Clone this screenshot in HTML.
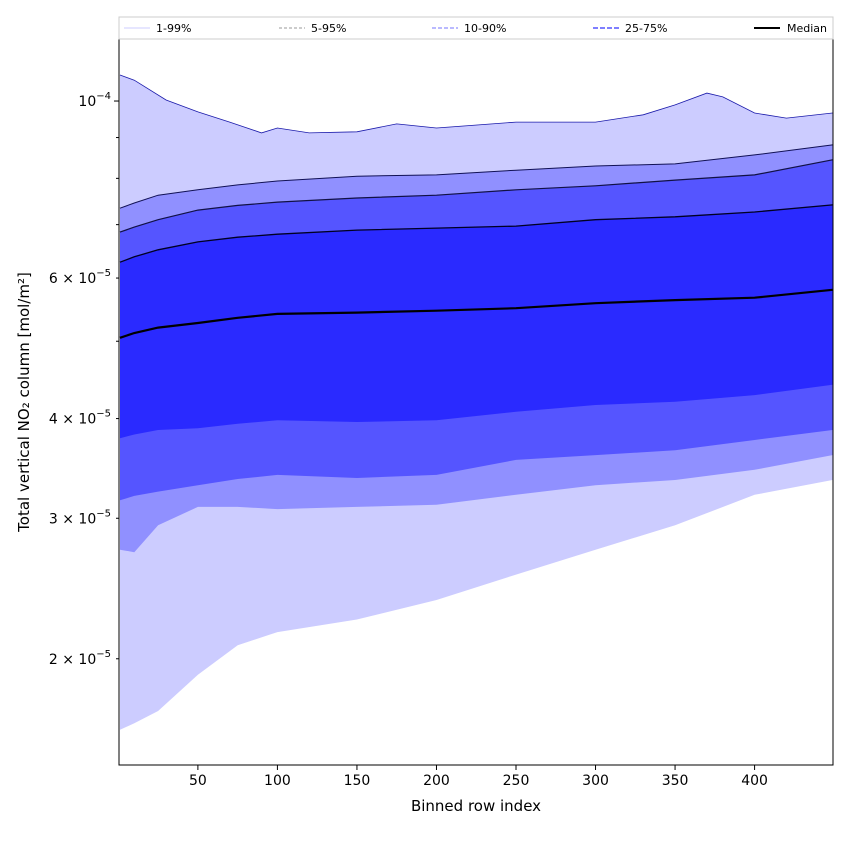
<!DOCTYPE html>
<html><head><meta charset="utf-8"><style>
body{margin:0;background:#fff}
svg{font-family:"DejaVu Sans","Liberation Sans",sans-serif}
</style></head><body>
<svg id="chart" width="850" height="850" viewBox="0 0 850 850">
<g id="bands"></g>
<g id="lines"></g>
<rect x="119" y="39" width="714" height="726" fill="none" stroke="#000" stroke-width="1"/>
<g id="xticks"></g>
<g id="yticks"></g>
<text x="476" y="811" font-size="15" text-anchor="middle">Binned row index</text>
<text transform="translate(29,402) rotate(-90)" font-size="15" text-anchor="middle">Total vertical NO₂ column [mol/m²]</text>
<g>
<rect x="119" y="17" width="714" height="22" fill="#fff" stroke="#ccc"/>
<g><line x1="124" y1="28" x2="150" y2="28" stroke="#ccccff" stroke-width="1"/><text x="156" y="32" font-size="11">1-99%</text></g>
<g><line x1="279" y1="28" x2="305" y2="28" stroke="#999" stroke-width="1" stroke-dasharray="3,2"/><text x="311" y="32" font-size="11">5-95%</text></g>
<g><line x1="432" y1="28" x2="458" y2="28" stroke="#9090ff" stroke-width="1.2" stroke-dasharray="4,2"/><text x="464" y="32" font-size="11">10-90%</text></g>
<g><line x1="593" y1="28" x2="619" y2="28" stroke="#5555ff" stroke-width="1.5" stroke-dasharray="5,2"/><text x="625" y="32" font-size="11">25-75%</text></g>
<g><line x1="754" y1="28" x2="780" y2="28" stroke="#000" stroke-width="2"/><text x="787" y="32" font-size="11">Median</text></g>
</g>
</svg>
<script>
const idx = [1,10,25,50,75,100,150,200,250,300,350,400,449];
const p99idx = [1,10,30,50,70,90,100,120,150,175,200,250,300,330,350,370,380,400,420,449];
const p99 = [10.78,10.62,10.03,9.69,9.41,9.12,9.25,9.12,9.15,9.36,9.25,9.41,9.41,9.61,9.89,10.23,10.12,9.66,9.52,9.66];
const p95 = [7.34,7.45,7.62,7.74,7.85,7.94,8.05,8.08,8.19,8.29,8.34,8.56,8.81];
const p90 = [6.85,6.95,7.10,7.30,7.40,7.47,7.56,7.62,7.74,7.83,7.96,8.08,8.44];
const p75 = [6.28,6.38,6.51,6.66,6.75,6.81,6.89,6.93,6.97,7.10,7.16,7.26,7.41];
const p50 = [5.05,5.12,5.20,5.27,5.35,5.41,5.43,5.46,5.50,5.58,5.63,5.67,5.80];
const p25 = [3.78,3.82,3.87,3.89,3.94,3.98,3.96,3.98,4.08,4.16,4.20,4.28,4.41];
const p10 = [3.16,3.20,3.24,3.30,3.36,3.40,3.37,3.40,3.55,3.60,3.65,3.76,3.87];
const p5  = [2.74,2.72,2.94,3.10,3.10,3.08,3.10,3.12,3.21,3.30,3.35,3.45,3.60];
const p1  = [1.63,1.66,1.72,1.91,2.08,2.16,2.24,2.37,2.55,2.74,2.94,3.21,3.35];
const xTicks = [50,100,150,200,250,300,350,400];
const yTickVals = [2,3,4,5,6,7,8,9,10];
const yTickLabels = ["2","3","4","","6","","","","1"];
const NS="http://www.w3.org/2000/svg";
const X0=119,X1=833,Y0=39,Y1=765;
const xmin=0.4,xmax=449.3;
const lmin=Math.log10(1.472),lmax=Math.log10(11.96);
function sx(v){return X0+(v-xmin)/(xmax-xmin)*(X1-X0);}
function sy(v){return Y1-(Math.log10(v)-lmin)/(lmax-lmin)*(Y1-Y0);}
function pts(xs,ys){return xs.map((x,i)=>sx(x).toFixed(1)+","+sy(ys[i]).toFixed(1));}
function mk(tag,attrs,parent){const e=document.createElementNS(NS,tag);for(const k in attrs)e.setAttribute(k,attrs[k]);parent.appendChild(e);return e;}
const bands=document.getElementById('bands');
function band(xu,up,xl,lo,color,name){
  const p=pts(xu,up).concat(pts(xl,lo).reverse());
  const e=mk('polygon',{points:p.join(' '),fill:color},bands);
  
  
}
band(p99idx,p99,idx,p1,'#ccccff','band-1-99');
band(idx,p95,idx,p5,'#9090ff','band-5-95');
band(idx,p90,idx,p10,'#5555ff','band-10-90');
band(idx,p75,idx,p25,'#2a2aff','band-25-75');
const lines=document.getElementById('lines');
function line(xs,ys,color,w,name){
  const e=mk('polyline',{points:pts(xs,ys).join(' '),fill:'none',stroke:color,'stroke-width':w},lines);
  
  
}
line(p99idx,p99,'#1a1aaa',0.8,'p99-line');
line(idx,p95,'#111155',1,'p95-line');
line(idx,p90,'#111144',1.2,'p90-line');
line(idx,p75,'#000022',1.3,'p75-line');
line(idx,p50,'#000',2.2,'median-line');
const xt=document.getElementById('xticks');
xTicks.forEach(v=>{
  const g=mk('g',{},xt);
  
  
  mk('line',{x1:sx(v),x2:sx(v),y1:Y1,y2:Y1+5,stroke:'#000'},g);
  const t=mk('text',{x:sx(v),y:Y1+20,'font-size':14,'text-anchor':'middle'},g);
  t.textContent=v;
});
const yt=document.getElementById('yticks');
yTickVals.forEach((v,i)=>{
  const g=mk('g',{},yt);
  
  
  const y=sy(v);
  const major=v===10;
  mk('line',{x1:X0-(major?5:3),x2:X0,y1:y,y2:y,stroke:'#000'},g);
  const lab=yTickLabels[i];
  if(lab){
    const t=mk('text',{x:X0-8,y:y+5,'font-size':14,'text-anchor':'end'},g);
    if(major){t.innerHTML='10<tspan dy="-7" font-size="10">−4</tspan>';}
    else{t.innerHTML=lab+' × 10<tspan dy="-7" font-size="10">−5</tspan>';}
  }
});
</script>
</body></html>
